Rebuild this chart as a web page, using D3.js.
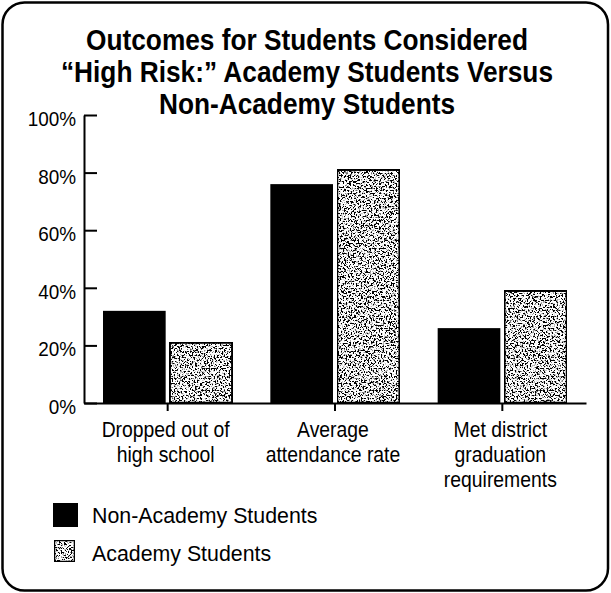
<!DOCTYPE html>
<html><head><meta charset="utf-8">
<script src="https://cdn.jsdelivr.net/npm/d3@7"></script>
<style>
html,body{margin:0;padding:0;background:#fff;}
svg text{font-family:"Liberation Sans",Arial,Helvetica,sans-serif;fill:#000;}
</style></head>
<body>
<script>
const titleLines = ["Outcomes for Students Considered", "\u201cHigh Risk:\u201d Academy Students Versus", "Non-Academy Students"];
const categories = ["Dropped out of|high school", "Average|attendance rate", "Met district|graduation|requirements"];
const seriesNames = ["Non-Academy Students", "Academy Students"];
const nonAcademy = [32, 76, 26];
const academy = [21, 81, 39];
const yTicks = [0, 20, 40, 60, 80, 100];

const W = 611, H = 593;
const svg = d3.select("body").append("svg").attr("width", W).attr("height", H);

function narrow(sel, factor){
  sel.each(function(){
    const len = this.getComputedTextLength();
    d3.select(this).attr("textLength", len*factor).attr("lengthAdjust","spacingAndGlyphs");
  });
}

const defs = svg.append("defs");
const f = defs.append("filter").attr("id","speckle").attr("x",0).attr("y",0).attr("width",1).attr("height",1)
  .attr("filterUnits","objectBoundingBox");
f.append("feTurbulence").attr("type","fractalNoise").attr("baseFrequency","0.6").attr("numOctaves",4).attr("seed",7).attr("result","noise");
f.append("feColorMatrix").attr("in","noise").attr("type","matrix")
  .attr("values","0 0 0 0 0  0 0 0 0 0  0 0 0 0 0  10 0 0 0 -4.9").attr("result","dots");
f.append("feComposite").attr("in","dots").attr("in2","SourceAlpha").attr("operator","in").attr("result","dotsIn");
const fm = f.append("feMerge");
fm.append("feMergeNode").attr("in","SourceGraphic");
fm.append("feMergeNode").attr("in","dotsIn");

// frame
svg.append("rect").attr("x",2.5).attr("y",2.5).attr("width",605.5).attr("height",588)
  .attr("rx",22).attr("ry",22).attr("fill","none").attr("stroke","#000").attr("stroke-width",2.5);

// title
svg.append("g").selectAll("text").data(titleLines).join("text")
  .attr("x",307).attr("y",(d,i)=>50+i*32).attr("text-anchor","middle")
  .attr("font-size",29).attr("font-weight","bold").text(d=>d)
  .call(narrow, 0.905);

const x0 = d3.scaleBand().domain(categories).range([84, 586]).paddingInner(0).paddingOuter(0);
const x1 = d3.scaleBand().domain(seriesNames).range([19, x0.bandwidth()-19]).paddingInner(0.06);
const y = d3.scaleLinear().domain([0,100]).range([403,115]);

// bars
const data = categories.map((c,i)=>({cat:c, vals:[{s:seriesNames[0],v:nonAcademy[i]},{s:seriesNames[1],v:academy[i]}]}));
const grp = svg.append("g").selectAll("g").data(data).join("g")
  .attr("transform",d=>`translate(${x0(d.cat)},0)`);
grp.selectAll("rect").data(d=>d.vals).join("rect")
  .attr("x",d=>x1(d.s)).attr("width",x1.bandwidth())
  .attr("y",d=>y(d.v)).attr("height",d=>y(0)-y(d.v))
  .attr("fill",d=>d.s===seriesNames[0]?"#000":"#fff")
  .attr("stroke",d=>d.s===seriesNames[0]?"none":"#000")
  .attr("stroke-width",2.5)
  .attr("filter",d=>d.s===seriesNames[0]?null:"url(#speckle)");

// y axis
const yAx = svg.append("g").attr("transform","translate(84,0)")
  .call(d3.axisLeft(y).tickValues(yTicks).tickFormat(d=>d+"%").tickSizeInner(-13).tickSizeOuter(0).tickPadding(8));
yAx.select(".domain").attr("stroke-width",2);
yAx.selectAll(".tick line").attr("stroke-width",2);
yAx.selectAll("text").attr("font-size",21).attr("dy","0.5em")
  .style("font-family","'Liberation Sans',Arial,sans-serif").call(narrow, 0.9);

// x axis
const xAx = svg.append("g").attr("transform","translate(0,403)")
  .call(d3.axisBottom(x0).tickSizeInner(8).tickSizeOuter(0).tickFormat(""));
xAx.select(".domain").attr("stroke-width",2);
xAx.selectAll(".tick line").attr("stroke-width",2);

// category labels
categories.forEach(c=>{
  const lines = c.split("|");
  svg.append("g").selectAll("text").data(lines).join("text")
    .attr("text-anchor","middle").attr("font-size",22)
    .attr("x",x0(c)+x0.bandwidth()/2-2).attr("y",(d,i)=>437+i*25).text(d=>d)
    .call(narrow, 0.88);
});

// legend
const lg = svg.append("g").selectAll("g").data(seriesNames).join("g")
  .attr("transform",(d,i)=>`translate(53,${503+i*36})`);
lg.append("rect").attr("x",(d,i)=>i?1:0).attr("y",(d,i)=>i?1:0)
  .attr("width",(d,i)=>i?21:25).attr("height",(d,i)=>i?22:24)
  .attr("fill",(d,i)=>i?"#fff":"#000").attr("stroke",(d,i)=>i?"#000":"none").attr("stroke-width",2.5)
  .attr("filter",(d,i)=>i?"url(#speckle)":null);
lg.append("text").attr("x",39).attr("y",(d,i)=>i?22:20).attr("font-size",22).text(d=>d)
  .call(narrow, 0.97);
</script>
</body></html>
